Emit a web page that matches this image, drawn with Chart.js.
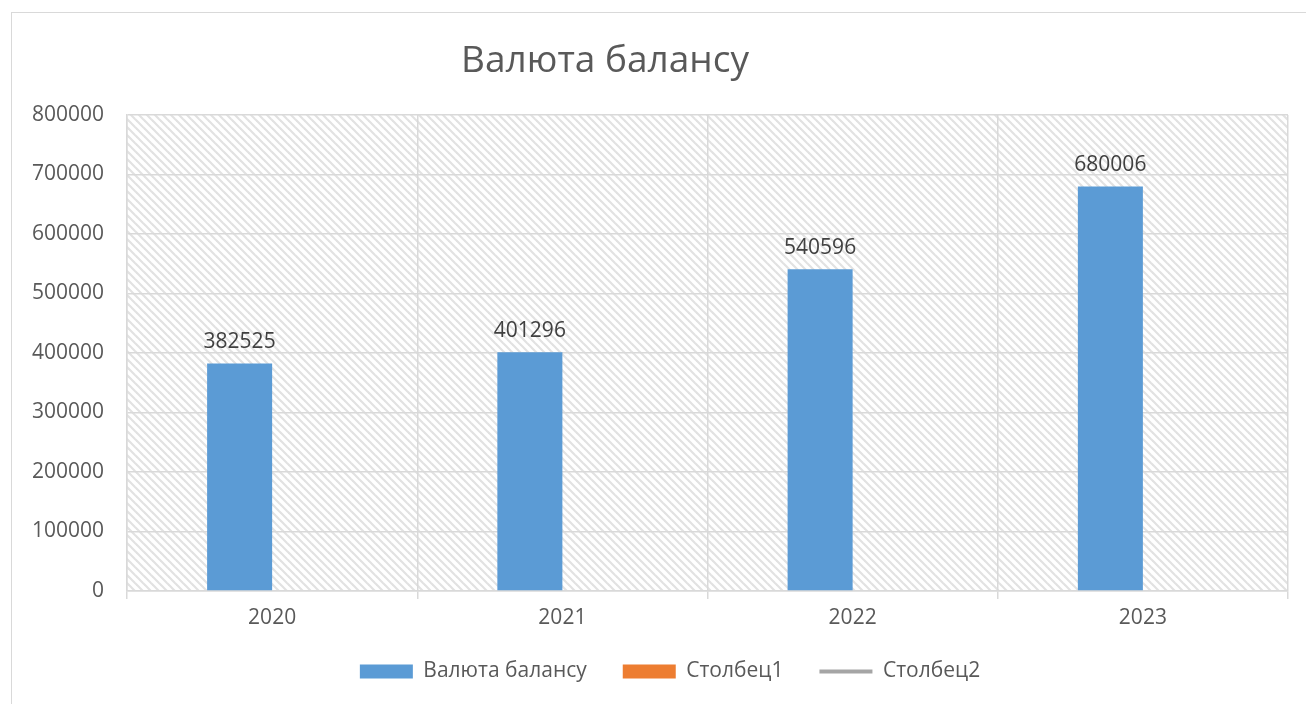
<!DOCTYPE html>
<html>
<head>
<meta charset="utf-8">
<title>Валюта балансу</title>
<script src="https://cdn.jsdelivr.net/npm/chart.js@4.4.0/dist/chart.umd.min.js"></script>
<style>
  html, body { margin: 0; padding: 0; background: #fff; overflow: hidden; }
  #wrap { position: relative; width: 1306px; height: 704px; }
  #frame { position: absolute; left: 11px; top: 12px; width: 1400px; height: 800px; border: 1.5px solid #d9d9d9; }
  #chart { position: absolute; left: 0; top: 0; }
</style>
</head>
<body>
<div id="wrap">
  <div id="frame"></div>
  <canvas id="chart" width="1306" height="704"></canvas>
</div>
<script>
const chartTitle = "Валюта балансу";
const years = ["2020", "2021", "2022", "2023"];
const balance = [382525, 401296, 540596, 680006];
const column1 = [null, null, null, null];
const column2 = [null, null, null, null];
const yTicks = [0, 100000, 200000, 300000, 400000, 500000, 600000, 700000, 800000];

const FONT = "'Open Sans', sans-serif";
const TEXT = "#595959";
const GRID = "#d9d9d9";

// diagonal hatch tile for the plot background
function makeHatch() {
  const c = document.createElement("canvas");
  c.width = 8; c.height = 8;
  const g = c.getContext("2d");
  g.fillStyle = "#ffffff";
  g.fillRect(0, 0, 8, 8);
  g.strokeStyle = "#e2e2e2";
  g.lineWidth = 2.2;
  for (let k = -8; k <= 8; k += 8) {
    g.beginPath();
    g.moveTo(k - 2, -2);
    g.lineTo(k + 10, 10);
    g.stroke();
  }
  return c;
}

const hatchBackground = {
  id: "hatchBackground",
  beforeDraw(chart) {
    const { ctx, chartArea: a } = chart;
    ctx.save();
    ctx.fillStyle = ctx.createPattern(makeHatch(), "repeat");
    ctx.fillRect(a.left, a.top, a.right - a.left, a.bottom - a.top);
    ctx.restore();
  }
};

// the legend sits a little right of the canvas centre
const legendShift = {
  id: "legendShift",
  afterLayout(chart) {
    if (chart.legend) {
      chart.legend.left += 52;
    }
  }
};

const sheetTitle = {
  id: "sheetTitle",
  afterDraw(chart) {
    const ctx = chart.ctx;
    ctx.save();
    ctx.font = "37px " + FONT;
    ctx.fillStyle = TEXT;
    ctx.textAlign = "center";
    ctx.textBaseline = "middle";
    ctx.fillText(chartTitle, 605, 61);
    ctx.restore();
  }
};

// value labels above the blue bars
const valueLabels = {
  id: "valueLabels",
  afterDatasetsDraw(chart) {
    const ctx = chart.ctx;
    const meta = chart.getDatasetMeta(0);
    ctx.save();
    ctx.font = "21px " + FONT;
    ctx.fillStyle = "#404040";
    ctx.textAlign = "center";
    ctx.textBaseline = "alphabetic";
    meta.data.forEach((bar, i) => {
      ctx.fillText(String(balance[i]), bar.x, bar.y - 15);
    });
    ctx.restore();
  }
};

new Chart(document.getElementById("chart").getContext("2d"), {
  type: "bar",
  data: {
    labels: years,
    datasets: [
      {
        label: "Валюта балансу",
        data: balance,
        backgroundColor: "#5b9bd5",
        borderWidth: 0,
        categoryPercentage: 0.448,
        barPercentage: 1.0,
        order: 1
      },
      {
        label: "Столбец1",
        data: column1,
        backgroundColor: "#ed7d31",
        borderWidth: 0,
        categoryPercentage: 0.448,
        barPercentage: 1.0,
        order: 2
      },
      {
        type: "line",
        label: "Столбец2",
        data: column2,
        borderColor: "#a5a5a5",
        backgroundColor: "#a5a5a5",
        borderWidth: 4,
        pointRadius: 0,
        order: 0
      }
    ]
  },
  options: {
    responsive: false,
    animation: false,
    layout: { padding: { left: 0, right: 18, top: 115, bottom: 12 } },
    plugins: {
      title: { display: false },
      tooltip: { enabled: false },
      legend: {
        position: "bottom",
        align: "center",
        labels: {
          usePointStyle: true,
          pointStyleWidth: 53,
          boxHeight: 14,
          padding: 36,
          color: TEXT,
          font: { family: FONT, size: 21 },
          generateLabels: (chart) => chart.data.datasets.map((ds, i) => ({
            text: ds.label,
            fillStyle: ds.backgroundColor,
            strokeStyle: ds.type === "line" ? ds.borderColor : ds.backgroundColor,
            lineWidth: ds.type === "line" ? 4 : 0,
            pointStyle: ds.type === "line" ? "line" : "rect",
            fontColor: TEXT,
            hidden: false,
            datasetIndex: i
          }))
        }
      }
    },
    scales: {
      x: {
        grid: { color: GRID, lineWidth: 1.5, offset: true, drawTicks: true, tickLength: 8, tickColor: GRID },
        border: { color: GRID, width: 1.5 },
        ticks: { color: TEXT, font: { family: FONT, size: 21 }, padding: 6 },
        afterFit: (s) => { s.height = 34; }
      },
      y: {
        min: 0,
        max: 800000,
        grid: { color: GRID, lineWidth: 1.5, drawTicks: false },
        border: { color: GRID, width: 1.5 },
        ticks: {
          color: TEXT,
          font: { family: FONT, size: 21 },
          padding: 23,
          callback: (v) => String(v)
        },
        afterBuildTicks: (s) => { s.ticks = yTicks.map((v) => ({ value: v })); },
        afterFit: (s) => { s.width = 127; }
      }
    }
  },
  plugins: [hatchBackground, legendShift, sheetTitle, valueLabels]
});
</script>
</body>
</html>
